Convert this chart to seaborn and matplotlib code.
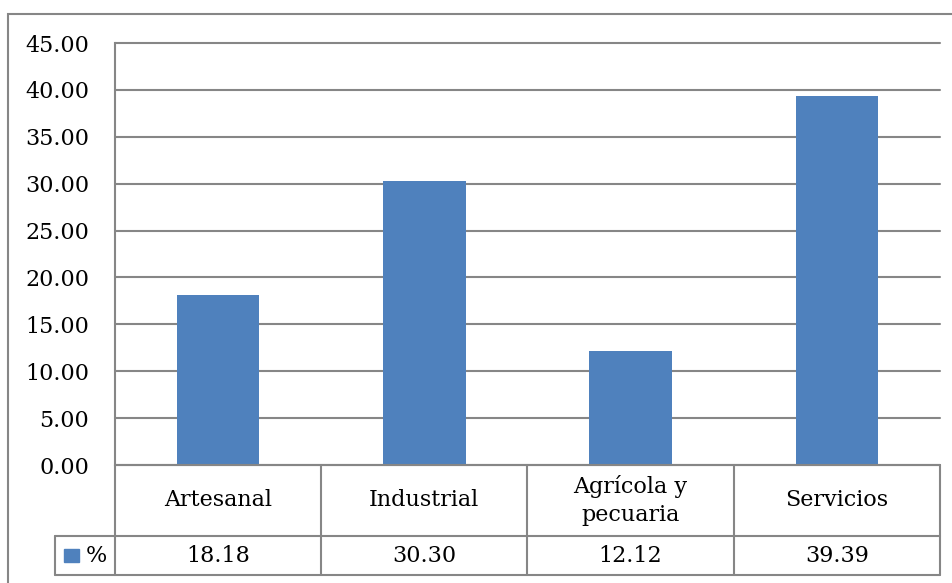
import matplotlib
matplotlib.use("Agg")
import matplotlib.pyplot as plt
import matplotlib.transforms as mtransforms
from matplotlib.patches import Rectangle
import seaborn as sns

# Chart data
categories = ["Artesanal", "Industrial", "Agrícola y\npecuaria", "Servicios"]
values = [18.18, 30.30, 12.12, 39.39]
value_labels = ["18.18", "30.30", "12.12", "39.39"]
series_name = "%"
y_ticks = [0, 5, 10, 15, 20, 25, 30, 35, 40, 45]

bar_color = "#4F81BD"
line_color = "#868686"

sns.set_style("white")
plt.rcParams["font.family"] = ["DejaVu Serif"]
plt.rcParams["font.size"] = 16
plt.rcParams["text.color"] = "black"
plt.rcParams["ytick.color"] = "black"

W, H = 953, 583
fig = plt.figure(figsize=(W / 100, H / 100), dpi=100)
ax = fig.add_axes([115 / W, (H - 465) / H, 825 / W, 422 / H])

sns.barplot(x=categories, y=values, color=bar_color, saturation=1,
            width=0.4, linewidth=0, ax=ax)

ax.set_xlim(-0.5, 3.5)
ax.set_ylim(0, 45)
ax.set_yticks(y_ticks)
ax.set_yticklabels([f"{t:.2f}" for t in y_ticks])
ax.set_xticks([])
ax.set_xlabel("")
ax.set_ylabel("")
ax.tick_params(axis="y", length=0, pad=18.5, labelsize=16, labelcolor="black")
ax.yaxis.grid(True, color=line_color, linewidth=1.5)
for gl in ax.get_ygridlines():
    gl.set_clip_on(False)
ax.set_axisbelow(True)
for side in ["top", "right", "bottom"]:
    ax.spines[side].set_visible(False)
ax.spines["left"].set_color(line_color)
ax.spines["left"].set_linewidth(1.5)

# data table below the plot
trans = mtransforms.blended_transform_factory(ax.transData, ax.transAxes)
r1 = -71 / 422
r2 = -110 / 422
leg_x = -0.5 - 60 / 206
kw = dict(color=line_color, linewidth=1.5, transform=trans, clip_on=False)
ax.plot([-0.5, 3.5], [0, 0], **kw)
ax.plot([leg_x, 3.5], [r1, r1], **kw)
ax.plot([leg_x, 3.5], [r2, r2], **kw)
for xb in [-0.5, 0.5, 1.5, 2.5, 3.5]:
    ax.plot([xb, xb], [0, r2], **kw)
ax.plot([leg_x, leg_x], [r1, r2], **kw)

for i, (cat, lab) in enumerate(zip(categories, value_labels)):
    ax.text(i, r1 / 2, cat, transform=trans, ha="center", va="center",
            fontsize=16, linespacing=1.3, color="black")
    ax.text(i, (r1 + r2) / 2, lab, transform=trans, ha="center",
            va="center", fontsize=16, color="black")

# legend key in the table
fig.patches.append(Rectangle((64 / W, 1 - 562 / H), 15 / W, 13 / H,
                             transform=fig.transFigure, color=bar_color))
fig.text(96 / W, 1 - 556 / H, series_name, ha="center", va="center",
         fontsize=16, color="black")

# chart frame
fig.patches.append(Rectangle((8 / W, -0.2), 1.2, 1.2 - 14 / H,
                             transform=fig.transFigure, fill=False,
                             edgecolor=line_color, linewidth=1.5))

fig.savefig("out.png", dpi=100)
